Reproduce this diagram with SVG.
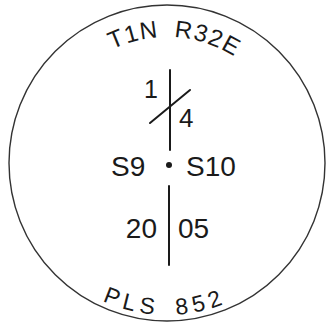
<svg xmlns="http://www.w3.org/2000/svg" width="328" height="324" viewBox="0 0 328 324">
  <style>
    .t { font-family: "Liberation Sans", Arial, sans-serif; fill: #1a1a1a; }
    .ln { stroke: #1a1a1a; stroke-width: 2; fill: none; stroke-linecap: round; }
  </style>
  <defs>
    <path id="arcTop" d="M 41,163 A 126 126 0 0 1 293,163" fill="none"/>
    <path id="arcBot" d="M 15,163 A 152 152 0 0 0 319,163" fill="none"/>
  </defs>
  <rect width="328" height="324" fill="#ffffff"/>
  <g id="monument">
    <circle cx="167" cy="163" r="158" fill="none" stroke="#333" stroke-width="1.4"/>
  </g>
  <g id="top-label">
    <text class="t" font-size="24" letter-spacing="1.2" word-spacing="7"><textPath href="#arcTop" startOffset="141">T1N R32E</textPath></text>
  </g>
  <g id="bottom-label">
    <text class="t" font-size="23" letter-spacing="5" word-spacing="6"><textPath href="#arcBot" startOffset="172">PLS 852</textPath></text>
  </g>
  <g id="connectors">
    <line class="ln" x1="170" y1="70" x2="170" y2="150"/>
    <line class="ln" x1="150" y1="123" x2="190" y2="90"/>
    <line class="ln" x1="169" y1="186" x2="169" y2="265"/>
  </g>
  <g id="quarter">
    <text class="t" x="158" y="98" font-size="25" text-anchor="end">1</text>
    <text class="t" x="179" y="127" font-size="26">4</text>
  </g>
  <g id="sections">
    <text class="t" x="111" y="176" font-size="28">S9</text>
    <circle cx="169" cy="165" r="3" fill="#1a1a1a"/>
    <text class="t" x="186" y="176" font-size="28">S10</text>
  </g>
  <g id="year">
    <text class="t" x="157" y="238" font-size="28" text-anchor="end">20</text>
    <text class="t" x="178" y="238" font-size="28">05</text>
  </g>
</svg>
